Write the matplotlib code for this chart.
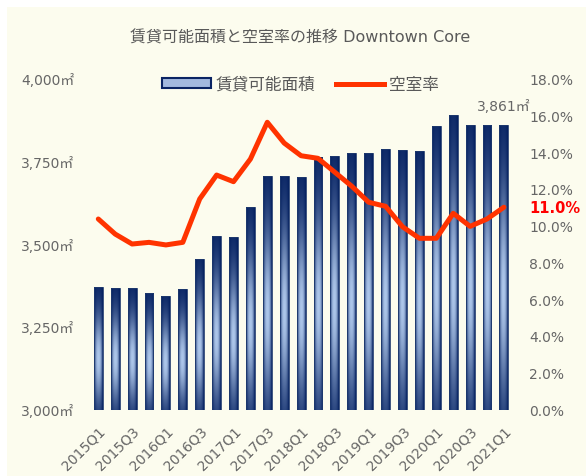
import numpy as np
import matplotlib
matplotlib.use("Agg")
import matplotlib.pyplot as plt
from matplotlib.patches import Rectangle, Patch
from matplotlib.lines import Line2D
from matplotlib.ticker import FuncFormatter, MultipleLocator

plt.rcParams['font.family'] = ['DejaVu Sans', 'Noto Sans CJK JP']

# データ
quarters = ['2015Q1', '2015Q2', '2015Q3', '2015Q4', '2016Q1', '2016Q2', '2016Q3', '2016Q4',
            '2017Q1', '2017Q2', '2017Q3', '2017Q4', '2018Q1', '2018Q2', '2018Q3', '2018Q4',
            '2019Q1', '2019Q2', '2019Q3', '2019Q4', '2020Q1', '2020Q2', '2020Q3', '2020Q4',
            '2021Q1']
area = [3369, 3366, 3366, 3351, 3344, 3363, 3455, 3523, 3520, 3611, 3705, 3705, 3702,
        3764, 3767, 3774, 3774, 3787, 3784, 3780, 3857, 3891, 3861, 3861, 3861]
vacancy = [10.36, 9.54, 9.00, 9.09, 8.95, 9.09, 11.45, 12.75, 12.39, 13.62, 15.62, 14.49,
           13.80, 13.66, 12.90, 12.14, 11.27, 11.05, 9.94, 9.31, 9.31, 10.67, 9.96, 10.36,
           11.0]

gray = '#666666'
navy = np.array([0.01, 0.12, 0.37])
light = np.array([0.68, 0.78, 0.92])

fig = plt.figure(figsize=(5.86, 4.77), dpi=100, facecolor='white')
fig.patches.append(Rectangle((7 / 586, 0), 1, 1 - 8 / 477, transform=fig.transFigure,
                             facecolor='#FCFCEE', edgecolor='none', zorder=-10))

ax1 = fig.add_axes([89.85 / 586, 0.1394, (512.35 - 89.85) / 586, 0.6939])
ax1.set_facecolor('none')
x = np.arange(len(quarters))
bars = ax1.bar(x, area, width=0.53, facecolor='none', edgecolor='#1F3A6E', linewidth=0.6, zorder=3)

ymin, ymax = 3000, 4000

# グラデーション (中央が明るい)
u = np.linspace(0, 1, 40)
t = np.linspace(0, 1, 200)
hprof = 1 - np.abs(2 * u - 1) ** 2.5
vprof = np.exp(-((t - 0.42) / 0.36) ** 2)
b = vprof[:, None] * hprof[None, :]
grad = navy[None, None, :] + b[:, :, None] * (light - navy)[None, None, :]
for rect in bars:
    x0, w = rect.get_x(), rect.get_width()
    top = rect.get_y() + rect.get_height()
    im = ax1.imshow(grad, extent=(x0, x0 + w, ymin, top), origin='lower',
                    aspect='auto', zorder=2, interpolation='bilinear')
    im.set_clip_path(rect)
ax1.set_ylim(ymin, ymax)
ax1.set_xlim(-0.5, len(quarters) - 0.5)
ax1.set_aspect('auto')

ax1.yaxis.set_major_locator(MultipleLocator(250))
ax1.yaxis.set_major_formatter(FuncFormatter(lambda v, p: f'{v:,.0f}㎡'))
ax1.set_xticks(x[::2])
ax1.set_xticklabels(quarters[::2], rotation=45, ha='right', va='top', rotation_mode='anchor')
ax1.tick_params(axis='y', length=0, pad=11, labelsize=10, labelcolor=gray)
ax1.tick_params(axis='x', length=0, pad=10, labelsize=10, labelcolor=gray)
for s in ax1.spines.values():
    s.set_visible(False)

ax1.annotate(f'{area[-1]:,}㎡', xy=(x[-1], area[-1]), xytext=(0, 8), textcoords='offset points',
             ha='center', va='bottom', fontsize=10, color=gray)

ax2 = ax1.twinx()
ax2.plot(x, vacancy, color='#FF3300', lw=3.6, solid_joinstyle='round', solid_capstyle='round',
         zorder=5)
ax2.set_ylim(0, 18)
ax2.yaxis.set_major_locator(MultipleLocator(2))
ax2.yaxis.set_major_formatter(FuncFormatter(lambda v, p: f'{v:.1f}%'))
ax2.tick_params(axis='y', length=0, pad=12, labelsize=10, labelcolor=gray)
for s in ax2.spines.values():
    s.set_visible(False)

ax2.annotate(f'{vacancy[-1]:.1f}%', xy=(1, vacancy[-1]), xycoords=('axes fraction', 'data'),
             xytext=(12, 0), textcoords='offset points', ha='left', va='center',
             fontsize=10.5, color='#FF0000', fontweight='bold')

fig.text(0.512, 0.921, '賃貸可能面積と空室率の推移 Downtown Core', ha='center', va='center',
         fontsize=11.5, color='#595959')

handles = [Patch(facecolor='#A3B9DE', edgecolor='#0A2463', linewidth=1.5),
           Line2D([], [], color='#FF3300', lw=3.6)]
fig.legend(handles, ['賃貸可能面積', '空室率'], loc='center', bbox_to_anchor=(0.513, 0.822),
           ncol=2, frameon=False, fontsize=12, labelcolor='#595959', handlelength=2.9,
           handleheight=0.5, handletextpad=0.3, columnspacing=1.2)

fig.savefig('out.png', dpi=100, facecolor=fig.get_facecolor())
